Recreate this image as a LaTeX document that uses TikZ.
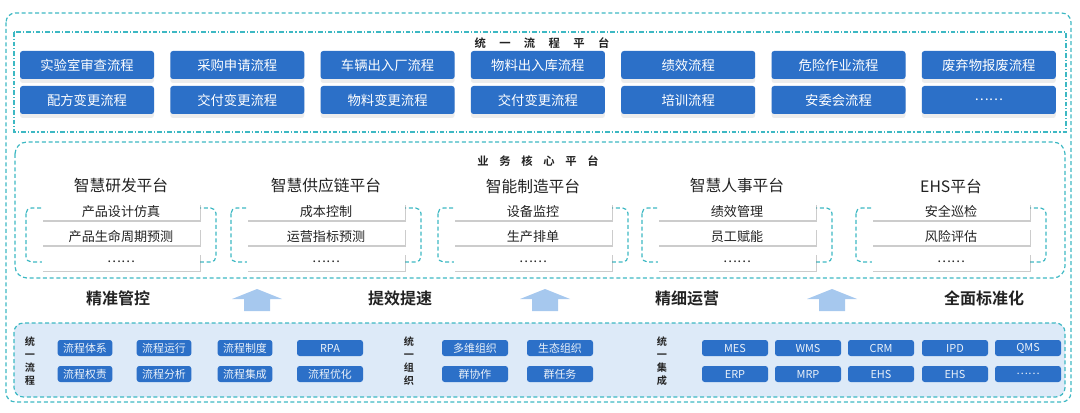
\documentclass[tikz,border=0pt]{standalone}
\usepackage{fontspec}
\newfontfamily\cjk{Noto Sans CJK SC}[BoldFont={Noto Sans CJK SC Bold}]
\usepackage{tikz}
\usetikzlibrary{shadows,positioning}
\definecolor{flowblue}{HTML}{2C70C8}
\definecolor{linecyan}{HTML}{3DB8C3}
\definecolor{basefill}{HTML}{DDEAF8}
\definecolor{arrowblue}{HTML}{A6C8EE}
\definecolor{inkgray}{HTML}{222222}

\begin{document}
\begin{tikzpicture}[x=0.75pt,y=-0.75pt,
  dashline/.style={linecyan,line width=0.9pt,dash pattern=on 3pt off 2pt},
  dotline/.style={linecyan,line width=0.9pt,dash pattern=on 3.5pt off 1.5pt on 0.8pt off 1.5pt},
  flowbox/.style={fill=flowblue,rounded corners=2pt,minimum width=100.5pt,minimum height=21pt,
    inner sep=0pt,text=white,font=\cjk\fontsize{10}{12}\selectfont,
    drop shadow={opacity=0.14,shadow xshift=0pt,shadow yshift=-3pt}},
  itembox/.style={fill=white,minimum width=118.5pt,minimum height=12.75pt,inner sep=0pt,
    text=inkgray,font=\cjk\fontsize{9.8}{11}\selectfont,
    drop shadow={opacity=0.4,shadow xshift=1pt,shadow yshift=-1.2pt}},
  sysbox/.style={fill=flowblue,rounded corners=2pt,minimum width=41pt,minimum height=12pt,
    inner sep=0pt,text=white!90!flowblue,font=\cjk\fontsize{8.2}{9}\selectfont},
  widebox/.style={sysbox,minimum width=49.5pt},
  sectitle/.style={text=inkgray,font=\cjk\bfseries\fontsize{8.5}{10}\selectfont},
  vlabel/.style={align=center,inner sep=0pt,text=inkgray,font=\cjk\bfseries\fontsize{7.6}{9.8}\selectfont},
  goal/.style={text=inkgray,font=\cjk\bfseries\fontsize{12}{14}\selectfont}]
  \useasboundingbox (0,0) rectangle (1080,413);

  \draw[dashline,rounded corners=7pt] (6,13) rectangle (1071,402);
  \draw[dotline] (14,32) rectangle (1066,132);
  \draw[dashline,rounded corners=9pt] (15,142) rectangle (1065,278);
  \draw[dashline,fill=basefill,rounded corners=7pt] (14,323) rectangle (1065,397);

  \node[sectitle] (flowtitle) at (542,43) {统\hspace{10pt}一\hspace{10pt}流\hspace{10pt}程\hspace{10pt}平\hspace{10pt}台};
  \foreach \txt [count=\i] in {实验室审查流程,采购申请流程,车辆出入厂流程,物料出入库流程,绩效流程,危险作业流程,废弃物报废流程}
    \node[flowbox] (fa\i) at ({87+150.3*(\i-1)},65) {\txt};
  \foreach \txt [count=\i] in {配方变更流程,交付变更流程,物料变更流程,交付变更流程,培训流程,安委会流程,……}
    \node[flowbox] (fb\i) at ({87+150.3*(\i-1)},100) {\txt};

  \node[sectitle] (coretitle) at (538,161) {业\hspace{8pt}务\hspace{8pt}核\hspace{8pt}心\hspace{8pt}平\hspace{8pt}台};
  \foreach \x/\ttl/\ia/\ib [count=\i] in {121/智慧研发平台/产品设计仿真/产品生命周期预测,
      326/智慧供应链平台/成本控制/运营指标预测,533/智能制造平台/设备监控/生产排单,
      737/智慧人事平台/绩效管理/员工赋能,951/EHS平台/安全巡检/风险评估} {
    \node[text=inkgray,font=\cjk\fontsize{11.8}{14}\selectfont] (plat\i) at (\x,186) {\ttl};
    \draw[dashline,rounded corners=4pt] (\x-95,208) rectangle (\x+95,262);
    \node[itembox] (ia\i) at (\x,211.5) {\ia};
    \node[itembox] (ib\i) at (\x,236.5) {\ib};
    \node[itembox] (ic\i) at (\x,262) {……};
  }

  \foreach \x [count=\i] in {257,545,832}
    \fill[arrowblue] (\x-13,311) -- (\x-13,299) -- (\x-25,299) -- (\x,289)
      -- (\x+25,299) -- (\x+13,299) -- (\x+13,311) -- cycle;
  \node[goal] (goal1) at (118,298) {精准管控};
  \node[goal] (goal2) at (400,298) {提效提速};
  \node[goal] (goal3) at (687,298) {精细运营};
  \node[goal] (goal4) at (984,298) {全面标准化};

  \node[vlabel] (vflow) at (30,361) {统\\一\\流\\程};
  \node[vlabel] (vorg) at (409,361) {统\\一\\组\\织};
  \node[vlabel] (vint) at (662,361) {统\\一\\集\\成};
  \foreach \x/\ta/\tb [count=\i] in {85/流程体系/流程权责,164/流程运行/流程分析,245/流程制度/流程集成} {
    \node[sysbox] (sa\i) at (\x,348) {\ta};
    \node[sysbox] (sb\i) at (\x,374) {\tb};
  }
  \node[widebox] (sa4) at (330,348) {RPA};
  \node[widebox] (sb4) at (330,374) {流程优化};
  \foreach \x/\ta/\tb [count=\i] in {475/多维组织/群协作,560/生态组织/群任务} {
    \node[widebox] (oa\i) at (\x,348) {\ta};
    \node[widebox] (ob\i) at (\x,374) {\tb};
  }
  \foreach \x/\ta/\tb [count=\i] in {735/MES/ERP,808/WMS/MRP,881/CRM/EHS,955/IPD/EHS,1028/QMS/……} {
    \node[widebox] (ma\i) at (\x,348) {\ta};
    \node[widebox] (mb\i) at (\x,374) {\tb};
  }
\end{tikzpicture}
\end{document}
